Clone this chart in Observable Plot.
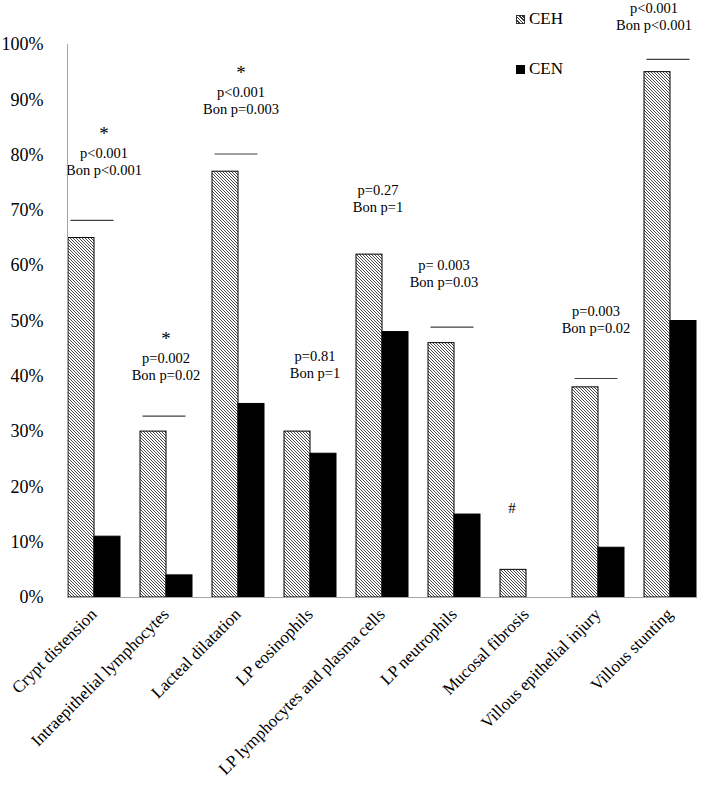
<!DOCTYPE html>
<html><head><meta charset="utf-8">
<script src="https://cdn.jsdelivr.net/npm/d3@7"></script>
<script src="https://cdn.jsdelivr.net/npm/@observablehq/plot@0.6"></script>
<style>
body{margin:0;background:#fff;font-family:"Liberation Serif",serif;}
#wrap{position:relative;width:709px;height:787px;}
.leg{position:absolute;display:flex;align-items:center;font-size:17px;color:#000;}
.sw{width:9px;height:9px;margin-right:4px;box-sizing:border-box;}
g[aria-label="y-axis tick label"]{font-size:18px;}
g[aria-label="fx-axis tick label"]{font-size:17px;}
</style>
</head><body><div id="wrap"></div>
<script>
const categories = ["Crypt distension","Intraepithelial lymphocytes","Lacteal dilatation","LP eosinophils","LP lymphocytes and plasma cells","LP neutrophils","Mucosal fibrosis","Villous epithelial injury","Villous stunting"];
const series = ["CEH","CEN"];
const cehValues = [65,30,77,30,62,46,5,38,95];
const cenValues = [11,4,35,26,48,15,0,9,50];
const pTexts = ["p<0.001","p=0.002","p<0.001","p=0.81","p=0.27","p= 0.003","","p=0.003","p<0.001"];
const bonTexts = ["Bon p<0.001","Bon p=0.02","Bon p=0.003","Bon p=1","Bon p=1","Bon p=0.03","","Bon p=0.02","Bon p<0.001"];
const labelY = [78.9,41.9,90.0,42.2,72.3,58.6,null,50.4,105.2];
const starred = [true,true,true,false,false,false,false,false,false];
const sigLineY = [68.2,32.8,80.2,null,null,48.9,null,39.6,97.3];
const otherMarks = ["","","","","","","#","",""];
const otherY = [null,null,null,null,null,null,16.1,null,null];
const yTicks = [0,10,20,30,40,50,60,70,80,90,100];

// layout only: horizontal nudges of annotation text (px)
const nudge = [10,0,3,5,-4,-10,-14,-2,-16];

const bars = [];
categories.forEach((c,i)=>{
  bars.push({category:c, series:"CEH", value:cehValues[i]});
  if (cenValues[i] > 0) bars.push({category:c, series:"CEN", value:cenValues[i]});
});
const annots = categories.map((c,i)=>({category:c, label: pTexts[i] ? pTexts[i]+"\n"+bonTexts[i] : "", y: labelY[i], star: starred[i], other: otherMarks[i], oy: otherY[i], line: sigLineY[i]}));

const annotMarks = [];
annots.forEach((a,i)=>{
  if (a.label) annotMarks.push(Plot.text([a], {fx:"category", y:"y", text:"label", fontSize:14.5, lineHeight:1.17, dx:nudge[i], fill:"#000"}));
  if (a.star) annotMarks.push(Plot.text([a], {fx:"category", y:"y", text:()=>"*", fontSize:19, dx:nudge[i], dy:-27, fill:"#000"}));
  if (a.other) annotMarks.push(Plot.text([a], {fx:"category", y:"oy", text:"other", fontSize:15, dx:nudge[i], fill:"#000"}));
});

const plot = Plot.plot({
  width: 709, height: 787,
  marginLeft: 55, marginRight: 1, marginTop: 44, marginBottom: 190,
  style: {fontFamily: '"Liberation Serif", serif', fontSize: "17px", background: "white", color: "#000", overflow: "visible"},
  fx: {domain: categories, paddingInner: 0.27, paddingOuter: 0.135, label: null},
  x: {domain: series, padding: 0, axis: null},
  y: {domain: [0, 100]},
  color: {domain: series, range: ["url(#hatch)", "#000"]},
  marks: [
    Plot.barY(bars, {fx:"category", x:"series", y:"value", fill:"series", stroke:"#000", strokeWidth:1}),
    Plot.ruleY(annots.filter(a=>a.line!=null), {fx:"category", y:"line", insetLeft:3.5, insetRight:6.5, stroke:"#404040", strokeWidth:1.2}),
    ...annotMarks,
    Plot.frame({anchor:"left", facet:"super", stroke:"#a6a6a6"}),
    Plot.frame({anchor:"bottom", facet:"super", stroke:"#a6a6a6"}),
    Plot.axisY({ticks: yTicks, tickFormat: d => d + "%", tickSize: 0, tickPadding: 24, fontSize: 18, label: null}),
    Plot.axisFx({anchor:"bottom", tickRotate:-45, tickSize:0, tickPadding:14, fontSize:17, label:null})
  ]
});

const defs = d3.select(plot).insert("defs", ":first-child");
const pat = defs.append("pattern").attr("id","hatch").attr("patternUnits","userSpaceOnUse").attr("width",3).attr("height",3);
pat.append("rect").attr("width",3).attr("height",3).attr("fill","#fff");
pat.append("path").attr("d","M-1,-1L4,4M-1,2L1,4M2,-1L4,1").attr("stroke","#333").attr("stroke-width",0.9);

const wrap = document.getElementById("wrap");
wrap.appendChild(plot);

// legend
const legItems = [{name: series[0], pattern:true, top: 9},{name: series[1], pattern:false, top: 59}];
legItems.forEach(it=>{
  const d = document.createElement("div");
  d.className = "leg";
  d.style.left = "516px"; d.style.top = it.top + "px";
  const sw = document.createElement("div");
  sw.className = "sw";
  if (it.pattern) {
    sw.style.border = "1px solid #333";
    sw.style.background = "repeating-linear-gradient(45deg, #fff 0px, #fff 1.2px, #333 1.2px, #333 2.4px)";
  } else {
    sw.style.background = "#000";
  }
  d.appendChild(sw);
  const t = document.createElement("span");
  t.textContent = it.name;
  d.appendChild(t);
  wrap.appendChild(d);
});
</script>
</body></html>
